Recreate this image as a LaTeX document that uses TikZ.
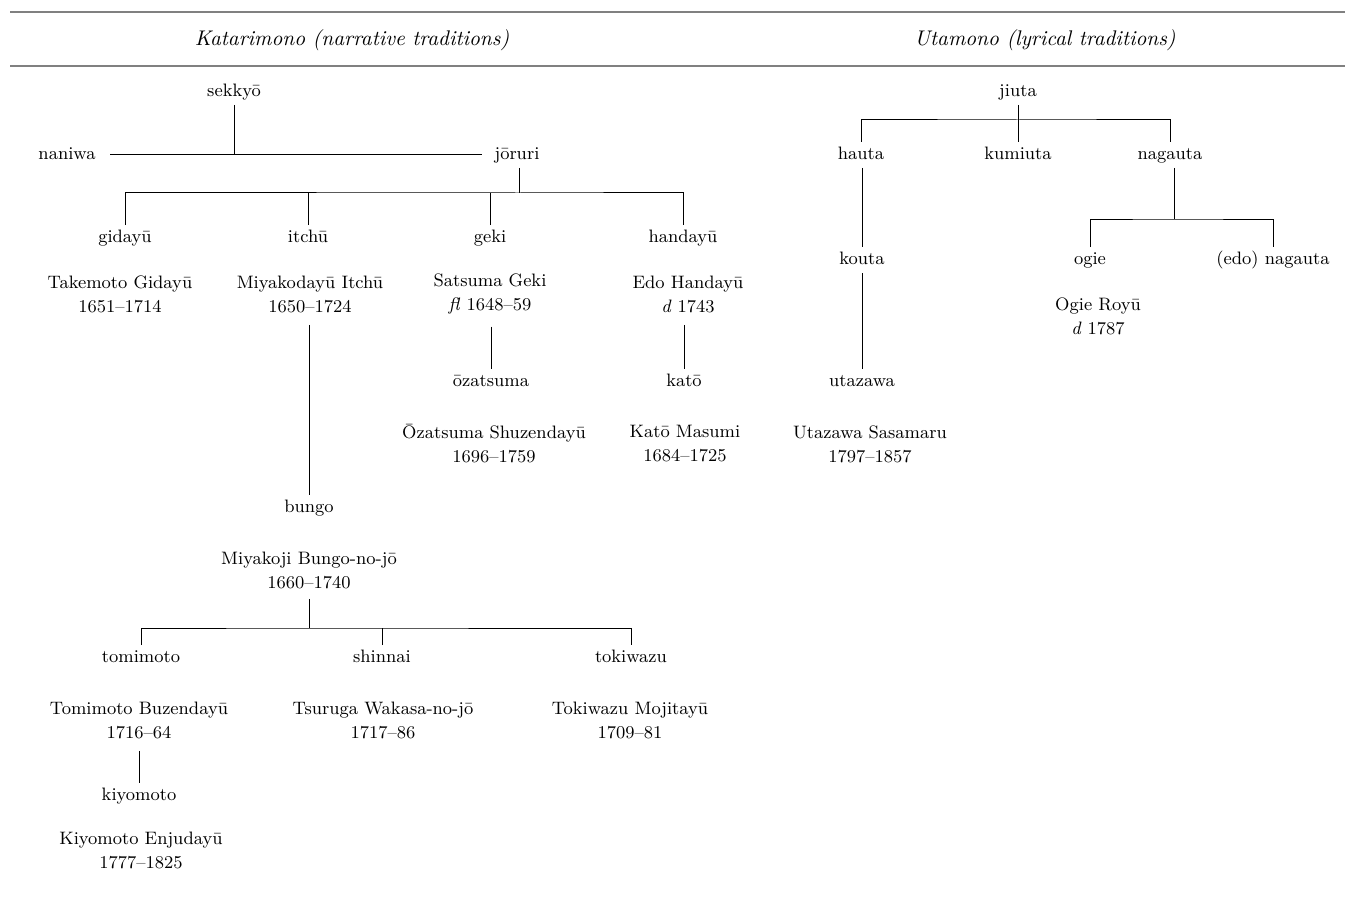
\documentclass[tikz,border=0pt]{standalone}
\usepackage{fontspec}
\usetikzlibrary{positioning}

\begin{document}
\begin{tikzpicture}[x=0.5pt, y=-0.5pt, font=\fontsize{9}{12}\selectfont, line width=0.5pt]
    \tikzset{school/.style = {inner sep=2pt, text height=6.5pt, text depth=2pt},
             person/.style = {align=center, inner sep=2pt},
             head/.style = {font=\fontsize{10.6}{12}\selectfont\itshape},
             rule/.style = {draw=gray, line width=1.4pt}
            }
    \useasboundingbox (0,0) rectangle (1345,904);
    % header rules and titles
    \draw[rule] (10,12) -- (1345,12);
    \draw[rule] (10,66) -- (1345,66);
    \node (katari) [head] at (352,40) {Katarimono (narrative traditions)};
    \node (utamono) [head] at (1045,40) {Utamono (lyrical traditions)};
    % katarimono
    \node (sekkyo) [school] at (234,92) {sekkyō};
    \node (naniwa) [school] at (67,155) {naniwa};
    \node (joruri) [school] at (517,155) {jōruri};
    \node (gidayu) [school] at (125,238) {gidayū};
    \node (itchu) [school] at (308,238) {itchū};
    \node (geki) [school] at (490,238) {geki};
    \node (handayu) [school] at (683,238) {handayū};
    \node (takemoto) [person] at (120,294) {Takemoto Gidayū\\1651--1714};
    \node (miyakodayu) [person] at (310,294) {Miyakodayū Itchū\\1650--1724};
    \node (satsuma) [person] at (490,294) {Satsuma Geki\\\textit{fl} 1648--59};
    \node (edo) [person] at (688,294) {Edo Handayū\\\textit{d} 1743};
    \node (ozatsuma) [school] at (491,382) {ōzatsuma};
    \node (kato) [school] at (684,382) {katō};
    \node (shuzendayu) [person] at (494,444) {Ōzatsuma Shuzendayū\\1696--1759};
    \node (masumi) [person] at (685,444) {Katō Masumi\\1684--1725};
    \node (bungo) [school] at (309,508) {bungo};
    \node (miyakoji) [person] at (309,570) {Miyakoji Bungo-no-jō\\1660--1740};
    \node (tomimoto) [school] at (141,658) {tomimoto};
    \node (shinnai) [school] at (382,658) {shinnai};
    \node (tokiwazu) [school] at (631,658) {tokiwazu};
    \node (buzendayu) [person] at (139,720) {Tomimoto Buzendayū\\1716--64};
    \node (wakasa) [person] at (383,720) {Tsuruga Wakasa-no-jō\\1717--86};
    \node (mojitayu) [person] at (630,720) {Tokiwazu Mojitayū\\1709--81};
    \node (kiyomoto) [school] at (139,796) {kiyomoto};
    \node (enjudayu) [person] at (141,850) {Kiyomoto Enjudayū\\1777--1825};
    % utamono
    \node (jiuta) [school] at (1018,92) {jiuta};
    \node (hauta) [school] at (861,155) {hauta};
    \node (kumiuta) [school] at (1018,155) {kumiuta};
    \node (nagauta) [school] at (1170,155) {nagauta};
    \node (kouta) [school] at (862,260) {kouta};
    \node (utazawa) [school] at (862,382) {utazawa};
    \node (sasamaru) [person] at (870,444) {Utazawa Sasamaru\\1797--1857};
    \node (ogie) [school] at (1090,260) {ogie};
    \node (edonagauta) [school] at (1273,260) {(edo) nagauta};
    \node (royu) [person] at (1098,316) {Ogie Royū\\\textit{d} 1787};
    % bars
    \coordinate (jbar) at (519,193);
    \coordinate (bbar) at (309,628);
    \coordinate (jubar) at (1018,120);
    \coordinate (nbar) at (1174,219);
    % connectors
    \draw (sekkyo.south) -- (sekkyo |- naniwa);
    \draw ([xshift=5pt]naniwa.east) -- ([xshift=-4pt]joruri.west);
    \draw (jbar |- joruri.south) -- (jbar);
    \draw (gidayu.north) |- (jbar) -| (handayu.north);
    \draw (itchu.north) -- (itchu |- jbar);
    \draw (geki.north) -- (geki |- jbar);
    \draw ([yshift=-4pt]bungo.north |- miyakodayu.south) -- (bungo.north);
    \draw ([yshift=-4pt]ozatsuma.north |- satsuma.south) -- (ozatsuma.north);
    \draw ([yshift=-4pt]kato.north |- edo.south) -- (kato.north);
    \draw ([yshift=-3pt]miyakoji.south) -- (bbar);
    \draw (tomimoto.north) |- (bbar) -| (tokiwazu.north);
    \draw (shinnai.north) -- (shinnai |- bbar);
    \draw ([yshift=-4pt]kiyomoto.north |- buzendayu.south) -- (kiyomoto.north);
    \draw (jiuta.south) -- (kumiuta.north);
    \draw (hauta.north) |- (jubar) -| (nagauta.north);
    \draw (kouta.north |- hauta.south) -- (kouta.north);
    \draw (kouta.south) -- (utazawa.north);
    \draw (nbar |- nagauta.south) -- (nbar);
    \draw (ogie.north) |- (nbar) -| (edonagauta.north);
\end{tikzpicture}
\end{document}
